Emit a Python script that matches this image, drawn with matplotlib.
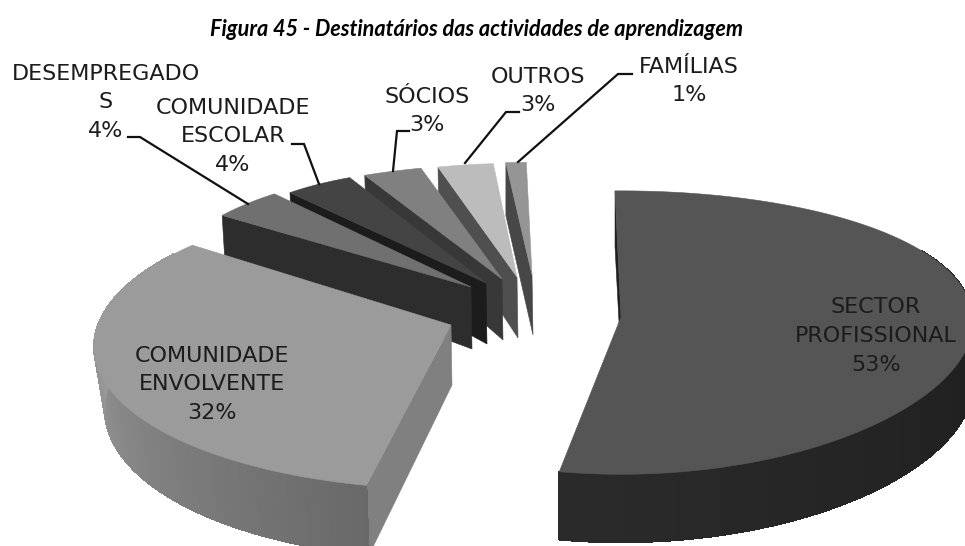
"""Exploded 3D pie: destinatarios das actividades de aprendizagem."""

import matplotlib

matplotlib.use("Agg")

import matplotlib.pyplot as plt
import numpy as np
from matplotlib.collections import PolyCollection

TITLE = "Figura 45 - Destinatários das actividades de aprendizagem"
CATEGORIES = ["SECTOR\nPROFISSIONAL", "COMUNIDADE\nENVOLVENTE", "DESEMPREGADO\nS",
              "COMUNIDADE\nESCOLAR", "SÓCIOS", "OUTROS", "FAMÍLIAS"]
PERCENTS = [53, 32, 4, 4, 3, 3, 1]

START_ANGLE = -1.0

# apex x, apex y, rx, ry, kx, ky, depth, depth change, bottom scale, angle shift
GEOMETRY = [
    (621, 317, 352, 140, 0.03, 0.11, 62, 6, 1.0, 0),
    (451, 325, 353, 143, 0.15, 0.13, 60, 10, 0.97, 2),
    (471, 287, 309, 132, 0.03, 0.10, 62, 35, 0.99, 0),
    (486, 283, 266, 128, -0.154, 0.10, 61, 22, 0.99, 0),
    (502, 279, 414, 126, 0.37, 0.10, 61, 17, 0.99, 0),
    (517, 277, 372, 125, 0.26, 0.10, 61, 11, 0.99, 0),
    (532, 275, 410, 124, 0.26, 0.10, 60, 7, 1.0, 0),
]
TOP_COLORS = ["#555555", "#9b9b9b", "#707070", "#444444", "#808080", "#bcbcbc", "#959595"]
FACE_COLORS = ["#1f1f1f", "#808080", "#2d2d2d", "#1c1c1c", "#383838", "#4f4f4f", "#474747"]
# wall colour at the front and towards the side
WALL_COLORS = [("#2a2a2a", "#202020"), ("#666666", "#9a9a9a"), None, None, None, None, None]

# (x, y) centre of each label's first line
LABEL_POS = [(876, 307), (212, 356), (106, 74), (233, 108), (427, 97), (538, 77), (689, 67)]
LINE_STEP = [29, 28.5, 28.5, 28.5, 28, 28, 28]
LEADERS = [
    None,
    None,
    [(128, 137), (140, 137), (248, 204)],
    [(292, 144), (304, 144), (319, 184)],
    [(409, 131), (397, 131), (393, 171)],
    [(519, 112), (506, 112), (465, 163)],
    [(632, 74), (618, 74), (518, 162)],
]


def rim(geo, t):
    ax0, ay0, rx, ry, kx, ky = geo[:6]
    r = np.radians(t + geo[9])
    x = ax0 + rx * np.sin(r) / (1 + kx * np.cos(r))
    y = ay0 - ry * np.cos(r) / (1 + ky * np.cos(r))
    return x, y


def lower(geo, x, y, t):
    ax0, d0, d1, s = geo[0], geo[6], geo[7], geo[8]
    return ax0 + (x - ax0) * s, y + d0 - d1 * np.cos(np.radians(t))


def grey(c):
    return int(c[1:3], 16) / 255


fig = plt.figure(figsize=(9.65, 5.46), dpi=100)
ax = fig.add_axes([0, 0, 1, 1])
ax.set_xlim(0, 965)
ax.set_ylim(546, 0)
ax.axis("off")

edges = START_ANGLE + np.cumsum([0] + PERCENTS) * 3.6

for i in range(len(PERCENTS) - 1, -1, -1):
    geo = GEOMETRY[i]
    t0, t1 = edges[i], edges[i + 1]
    ax0, ay0 = geo[0], geo[1]

    # radial face at the start of the slice
    cx, cy = rim(geo, t0)
    bx, by = lower(geo, cx, cy, t0)
    ax.fill([cx, ax0, ax0 + 1, bx], [cy, ay0, ay0 + geo[6], by],
            color=FACE_COLORS[i], linewidth=0.4)

    # outer wall, shaded strip by strip
    if WALL_COLORS[i] is not None:
        front, side = WALL_COLORS[i]
        ts = np.linspace(t0, t1, 160)
        ts = ts[(ts > 60) & (ts < 300)]
        quads, shades = [], []
        for a, b in zip(ts[:-1], ts[1:]):
            xa, ya = rim(geo, a)
            xb, yb = rim(geo, b)
            xc, yc = lower(geo, xb, yb, b)
            xd, yd = lower(geo, xa, ya, a)
            quads.append([(xa, ya), (xb, yb), (xc, yc), (xd, yd)])
            mix = min(abs((a + b) / 2 - 185) / 85, 1)
            g = grey(front) + (grey(side) - grey(front)) * mix
            shades.append((g, g, g))
        ax.add_collection(PolyCollection(quads, facecolors=shades, edgecolors=shades,
                                         linewidths=0.6, antialiaseds=False))

    # top surface
    ts = np.linspace(t0, t1, 200)
    xs, ys = rim(geo, ts)
    ax.fill(np.r_[ax0, xs], np.r_[ay0, ys], color=TOP_COLORS[i], linewidth=0.4)

for pts in LEADERS:
    if pts:
        px, py = zip(*pts)
        ax.plot(px, py, color="#111111", lw=1.6, solid_joinstyle="miter")

for i, cat in enumerate(CATEGORIES):
    x, y = LABEL_POS[i]
    for j, line in enumerate(cat.split("\n") + [f"{PERCENTS[i]}%"]):
        ax.text(x, y + j * LINE_STEP[i], line, ha="center", va="center",
                family="DejaVu Sans", fontsize=16, color="#1c1c1c")

ax.text(476, 30, TITLE, ha="center", va="center", family="Lato",
        fontsize=15.6, fontweight="bold", fontstyle="italic", color="black")

fig.savefig("out.png", dpi=100)
